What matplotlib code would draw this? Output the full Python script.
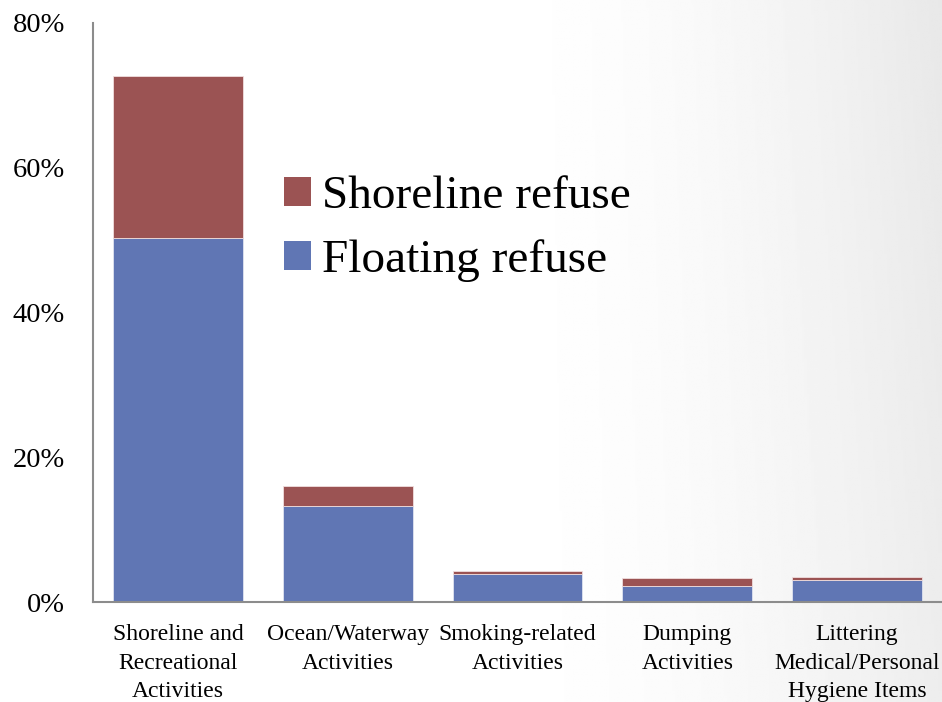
import numpy as np
import matplotlib.pyplot as plt
from matplotlib.patches import Patch

# share of refuse items by source activity (%)
categories = ['Shoreline and\nRecreational\nActivities',
              'Ocean/Waterway\nActivities',
              'Smoking-related\nActivities',
              'Dumping\nActivities',
              'Littering\nMedical/Personal\nHygiene Items']
floating = [50.3, 13.3, 3.9, 2.2, 3.1]
shoreline = [22.4, 2.7, 0.4, 1.1, 0.35]

red = '#9b5353'
blue = '#6076b4'

plt.rcParams['font.family'] = ['Liberation Serif', 'DejaVu Serif']

fig = plt.figure(figsize=(9.42, 7.02), dpi=100)

# soft grey shading toward the right edge
bg = fig.add_axes([0, 0, 1, 1], zorder=-10)
gx = np.linspace(0, 1, 400)
gy = np.linspace(0, 1, 300)
X, Y = np.meshgrid(gx, gy)
shade = np.clip((X - 0.5) / 0.5, 0, 1) ** 1.8 * (0.07 + 0.02 * Y)
bg.imshow(1 - shade, cmap='gray', vmin=0, vmax=1, aspect='auto',
          extent=[0, 1, 0, 1], origin='lower')
bg.axis('off')

ax = fig.add_axes([93 / 942, 1 - 602 / 702, (942 - 93) / 942, (602 - 23) / 702])
ax.patch.set_alpha(0)

x = np.arange(len(categories))
ax.bar(x, floating, width=0.765, color=blue, edgecolor='#dfe3f0', linewidth=0.6)
ax.bar(x, shoreline, bottom=floating, width=0.765, color=red,
       edgecolor='#f0dede', linewidth=0.6)

ax.set_xlim(-0.5, 4.5)
ax.set_ylim(0, 80)
ax.set_yticks([0, 20, 40, 60, 80])
ax.set_yticklabels(['0%', '20%', '40%', '60%', '80%'], fontsize=20.5)
ax.set_xticks(x)
ax.set_xticklabels(categories, fontsize=17, linespacing=1.47)
ax.tick_params(length=0)
ax.tick_params(axis='y', pad=20)
ax.tick_params(axis='x', pad=16)

for s in ['top', 'right']:
    ax.spines[s].set_visible(False)
for s in ['left', 'bottom']:
    ax.spines[s].set_color('#8c8c8c')
    ax.spines[s].set_linewidth(1.5)

handles = [Patch(facecolor=red, label='Shoreline refuse'),
           Patch(facecolor=blue, label='Floating refuse')]
leg = ax.legend(handles=handles, loc='upper left', bbox_to_anchor=(0.2026, 0.769),
                fontsize=34, frameon=False, handlelength=0.57, handleheight=0.57,
                handletextpad=0.23, labelspacing=0.45, borderaxespad=0)

fig.savefig('out.png', dpi=100)
